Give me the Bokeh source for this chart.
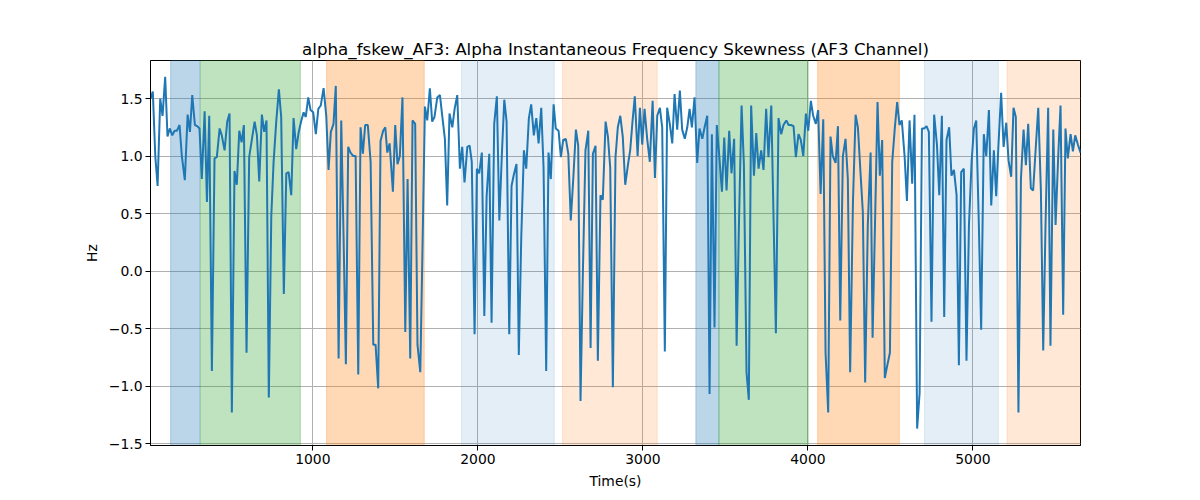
from bokeh.embed import file_html
from bokeh.resources import INLINE
from bokeh.plotting import figure
from bokeh.models import Range1d, BoxAnnotation, FixedTicker

# signal (time in s, skewness in Hz)
TIME_S = [
    16, 30, 45, 59, 75, 89, 105, 119, 133, 148, 162, 176, 192, 206, 224, 241, 255, 269, 285, 299,
    313, 327, 344, 358, 372, 388, 404, 418, 435, 448, 465, 481, 495, 509, 525, 539, 554, 568, 582, 598,
    614, 630, 647, 661, 675, 691, 705, 719, 733, 748, 762, 778, 794, 808, 824, 839, 853, 869, 883, 899,
    913, 930, 944, 957, 972, 986, 1002, 1018, 1033, 1048, 1065, 1081, 1095, 1109, 1125, 1139, 1156, 1172, 1186, 1200,
    1214, 1228, 1245, 1259, 1275, 1289, 1303, 1317, 1333, 1350, 1366, 1380, 1396, 1410, 1426, 1439, 1451, 1465, 1485, 1499,
    1513, 1527, 1543, 1560, 1574, 1590, 1604, 1620, 1634, 1651, 1665, 1679, 1693, 1709, 1723, 1737, 1754, 1770, 1784, 1800,
    1814, 1828, 1845, 1859, 1875, 1891, 1905, 1919, 1936, 1950, 1963, 1980, 1994, 2008, 2024, 2039, 2053, 2069, 2083, 2099,
    2115, 2130, 2145, 2160, 2174, 2190, 2204, 2218, 2234, 2248, 2263, 2279, 2293, 2309, 2323, 2339, 2354, 2368, 2384, 2398,
    2414, 2428, 2442, 2459, 2472, 2489, 2503, 2517, 2533, 2548, 2563, 2578, 2594, 2608, 2622, 2636, 2652, 2669, 2683, 2697,
    2713, 2727, 2743, 2757, 2774, 2788, 2802, 2818, 2834, 2848, 2863, 2878, 2893, 2909, 2923, 2937, 2951, 2968, 2982, 2996,
    3010, 3026, 3042, 3059, 3073, 3087, 3103, 3117, 3133, 3147, 3164, 3178, 3192, 3208, 3224, 3238, 3254, 3269, 3283, 3297,
    3313, 3329, 3343, 3360, 3374, 3390, 3404, 3418, 3434, 3448, 3463, 3479, 3493, 3507, 3523, 3537, 3553, 3568, 3582, 3598,
    3612, 3628, 3642, 3656, 3673, 3687, 3701, 3717, 3731, 3747, 3761, 3778, 3792, 3806, 3822, 3838, 3852, 3869, 3883, 3897,
    3913, 3927, 3943, 3957, 3972, 3988, 4002, 4018, 4032, 4048, 4062, 4077, 4093, 4107, 4123, 4137, 4151, 4168, 4182, 4196,
    4212, 4228, 4242, 4256, 4273, 4289, 4303, 4319, 4333, 4347, 4363, 4380, 4392, 4408, 4422, 4436, 4450, 4466, 4481, 4497,
    4511, 4527, 4541, 4555, 4569, 4586, 4600, 4616, 4632, 4646, 4662, 4677, 4691, 4705, 4719, 4733, 4749, 4765, 4782, 4796,
    4812, 4826, 4840, 4856, 4870, 4885, 4901, 4915, 4929, 4945, 4961, 4976, 4992, 5006, 5020, 5036, 5050, 5066, 5081, 5097,
    5111, 5127, 5141, 5155, 5171, 5186, 5202, 5216, 5232, 5246, 5260, 5276, 5291, 5307, 5321, 5335, 5351, 5365, 5382, 5396,
    5412, 5426, 5440, 5456, 5470, 5487, 5501, 5517, 5531, 5547, 5561, 5575, 5592, 5606, 5620, 5636, 5652,
]
SKEW_HZ = [
    1.50, 1.56, 1.00, 0.74, 1.50, 1.35, 1.69, 1.17, 1.24, 1.18, 1.22, 1.22, 1.27, 1.00, 0.79, 1.36, 1.21, 1.53, 1.27, 1.26,
    1.24, 0.80, 1.39, 0.60, 1.35, -0.87, 0.98, 0.99, 1.24, 1.18, 1.05, 1.30, 1.37, -1.23, 0.87, 0.75, 1.22, 1.12, 1.27, -0.71,
    0.99, 1.14, 1.30, 1.18, 0.78, 1.36, 1.21, 1.31, -1.10, 0.48, 0.95, 1.30, 1.58, 1.34, -0.20, 0.85, 0.86, 0.66, 1.33, 1.06,
    1.20, 1.31, 1.38, 1.34, 1.51, 1.40, 1.38, 1.19, 1.41, 1.44, 1.59, 1.35, 0.88, 1.21, 1.28, 1.61, -0.76, 1.31, 0.30, -0.81,
    1.08, 1.03, 1.00, 1.00, -0.90, 1.25, 1.02, 1.27, 1.27, 0.95, -0.64, -0.64, -1.02, 1.13, 1.22, 1.25, 1.03, 1.11, 0.69, 1.27,
    0.93, 1.00, 1.51, -0.53, 0.80, -0.76, 1.31, 1.28, -0.64, -0.88, 0.25, 1.43, 1.31, 1.59, 1.30, 1.34, 1.51, 1.53, 1.35, 1.15,
    0.57, 1.37, 1.25, 1.41, 1.53, 0.89, 1.08, 0.77, 1.08, 1.09, 0.95, -0.55, 0.89, 0.85, 1.03, -0.39, 0.65, 1.02, -0.45, 1.28,
    1.52, 0.44, 1.00, 1.49, 1.30, -0.55, 0.74, 0.84, 0.93, -0.73, 0.30, 1.05, 0.89, 1.33, 1.45, 1.18, 1.33, 1.11, 1.42, 0.90,
    -0.87, 1.03, 0.80, 1.45, 1.24, 1.22, 0.99, 1.14, 1.15, 1.02, 0.44, 0.80, 1.23, 1.09, -1.13, -0.04, 1.05, 1.22, -0.67, 1.02,
    1.09, -0.78, 0.66, 0.62, 1.30, 1.17, 0.90, -1.01, 0.99, 1.25, 1.35, 1.17, 0.75, 0.92, 1.05, 1.30, 1.52, 1.00, 1.42, 1.10,
    1.41, 1.15, 0.95, 1.48, 0.81, 1.35, 1.42, 1.25, -0.70, 1.42, 1.27, 1.11, 1.54, 1.23, 1.57, 1.23, 1.15, 1.25, 1.41, 1.25,
    1.51, 0.94, 1.24, 1.15, 1.25, 1.35, -1.07, 1.19, -0.49, 1.27, 1.00, 0.69, 1.16, 0.70, 1.22, 0.85, 1.15, -0.65, 0.40, 1.44,
    0.93, -0.88, -1.12, 1.44, 0.83, 1.20, 0.89, 1.05, 0.88, 1.41, 0.99, 1.44, 0.45, -0.54, 1.33, 1.19, 1.27, 1.31, 1.27, 1.27,
    1.26, 0.99, 1.19, 1.14, 1.00, 1.37, 1.22, 1.48, 1.35, 1.28, 1.40, 0.67, 1.32, -0.71, -1.23, 1.17, 1.00, 0.94, 1.26, -0.43,
    1.00, 1.15, 0.80, -0.88, 0.60, 1.36, 1.25, 0.85, 0.51, -0.97, 0.40, 1.03, -0.58, 0.50, 1.47, 0.83, 1.14, -0.93, -0.82, -0.71,
    0.95, 1.25, 1.47, 1.27, 1.31, 1.00, 0.61, 1.31, 0.76, 1.36, -1.37, -1.06, 1.24, 1.24, 1.26, 1.21, -0.44, 1.36, 1.10, 0.66,
    1.35, -0.40, 1.14, 1.25, 0.83, 0.88, 0.66, -0.82, 0.86, 0.89, -0.78, 0.40, 0.95, 1.24, 1.31, 0.40, -0.51, 1.19, 1.00, 1.40,
    0.57, 1.05, 0.65, 1.10, 1.55, 1.08, 1.29, 0.96, 0.82, 1.42, 1.34, -1.23, 0.80, 1.23, 0.92, 1.28, 0.72, 0.70, 1.10, 1.42,
    0.70, -0.69, 0.40, 1.42, -0.65, 1.23, 0.40, 1.00, 1.44, -0.38, 1.24, 0.98, 1.19, 1.04, 1.18, 1.10, 1.03,
]

# shaded segments
SPAN_START = [138, 319, 1083, 1901, 2513, 3321, 3461, 4059, 4707, 5207]
SPAN_END = [315, 924, 1675, 2463, 3087, 3461, 4002, 4554, 5154, 5660]
SPAN_KIND = ["blue", "green", "orange", "blue_light", "orange_light",
             "blue", "green", "orange", "blue_light", "orange_light"]

X_TICKS = [1000, 2000, 3000, 4000, 5000]
Y_TICKS = [-1.5, -1.0, -0.5, 0.0, 0.5, 1.0, 1.5]
Y_TICK_LABELS = ["\u22121.5", "\u22121.0", "\u22120.5", "0.0", "0.5", "1.0", "1.5"]

SHADE = {
    "blue": ("#1f77b4", 0.3),
    "green": ("#2ca02c", 0.3),
    "orange": ("#ff7f0e", 0.3),
    "blue_light": ("#1f77b4", 0.12),
    "orange_light": ("#ff7f0e", 0.17),
}

FONT = "DejaVu Sans"

p = figure(
    width=1200,
    height=500,
    x_range=Range1d(16, 5652),
    y_range=Range1d(-1.517, 1.831),
    output_backend="svg",
    toolbar_location=None,
    min_border_left=150,
    min_border_right=120,
    min_border_top=60,
    min_border_bottom=55,
    title="alpha_fskew_AF3: Alpha Instantaneous Frequency Skewness (AF3 Channel)",
)

p.title.align = "center"
p.title.text_font = FONT
p.title.text_font_size = "16.7px"
p.title.text_font_style = "normal"
p.title.text_color = "black"
p.title.standoff = 4

for s, e, k in zip(SPAN_START, SPAN_END, SPAN_KIND):
    col, a = SHADE[k]
    p.add_layout(BoxAnnotation(left=s, right=e, fill_color=col, fill_alpha=a,
                               line_color=col, line_alpha=a, line_width=1,
                               level="underlay"))

p.line(TIME_S, SKEW_HZ, line_color="#1f77b4", line_width=2)

p.outline_line_color = "black"
p.outline_line_width = 1
p.grid.grid_line_color = "#b0b0b0"
p.grid.grid_line_width = 1

p.xaxis.ticker = FixedTicker(ticks=X_TICKS)
p.yaxis.ticker = FixedTicker(ticks=Y_TICKS)
p.yaxis.major_label_overrides = {t: lab for t, lab in zip(Y_TICKS, Y_TICK_LABELS)}
p.xaxis.axis_label = "Time(s)"
p.yaxis.axis_label = "Hz"

for ax in (p.xaxis, p.yaxis):
    ax.axis_line_color = "black"
    ax.major_tick_line_color = "black"
    ax.major_tick_out = 5
    ax.major_tick_in = 0
    ax.minor_tick_line_color = None
    ax.major_label_text_font = FONT
    ax.major_label_text_font_size = "13.9px"
    ax.major_label_text_color = "black"
    ax.major_label_standoff = 3
    ax.axis_label_text_font = FONT
    ax.axis_label_text_font_size = "13.9px"
    ax.axis_label_text_font_style = "normal"
    ax.axis_label_text_color = "black"
    ax.axis_label_standoff = 6

open("out.html", "w").write(file_html(p, INLINE))
